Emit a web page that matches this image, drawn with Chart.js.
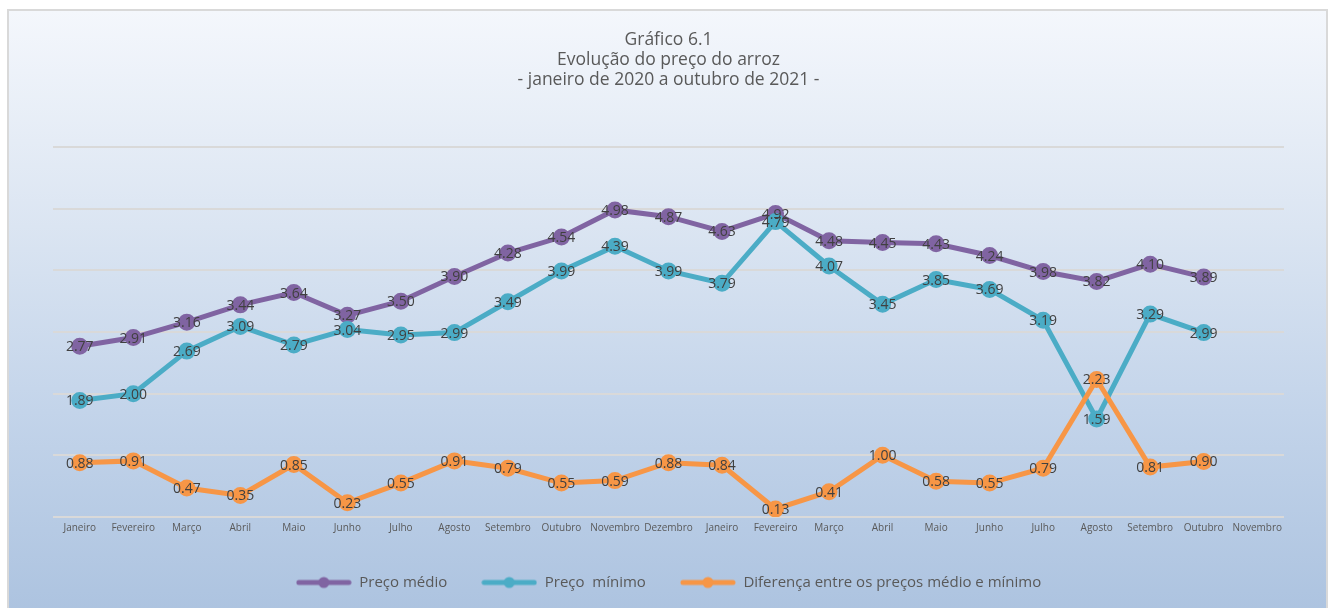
<!DOCTYPE html>
<html>
<head>
<meta charset="utf-8">
<script src="https://cdn.jsdelivr.net/npm/chart.js@4/dist/chart.umd.min.js"></script>
<style>
  html, body { margin: 0; padding: 0; background: #fff; overflow: hidden; }
  #box {
    position: absolute; left: 7px; top: 9px;
    width: 1317px; height: 616px;
    border: 2px solid #d9d9d9;
    background: linear-gradient(to bottom, #f4f7fc 0%, #dbe5f2 35%, #c3d4ea 65%, #abc2df 100%);
  }
  #wrap { position: relative; width: 1317px; height: 589px; }
</style>
</head>
<body>
<div id="box"><div id="wrap"><canvas id="ct-chart"></canvas></div></div>
<script>
"use strict";
const FONT = '"Open Sans", "DejaVu Sans", sans-serif';

const months = [
    "Janeiro", "Fevereiro", "Março", "Abril", "Maio", "Junho", "Julho", "Agosto",
    "Setembro", "Outubro", "Novembro", "Dezembro",
    "Janeiro", "Fevereiro", "Março", "Abril", "Maio", "Junho", "Julho", "Agosto",
    "Setembro", "Outubro", "Novembro"
];
const precoMedio = [2.77, 2.91, 3.16, 3.44, 3.64, 3.27, 3.50, 3.90, 4.28, 4.54, 4.98, 4.87,
                    4.63, 4.92, 4.48, 4.45, 4.43, 4.24, 3.98, 3.82, 4.10, 3.89, null];
const precoMinimo = [1.89, 2.00, 2.69, 3.09, 2.79, 3.04, 2.95, 2.99, 3.49, 3.99, 4.39, 3.99,
                     3.79, 4.79, 4.07, 3.45, 3.85, 3.69, 3.19, 1.59, 3.29, 2.99, null];
const diferenca = [0.88, 0.91, 0.47, 0.35, 0.85, 0.23, 0.55, 0.91, 0.79, 0.55, 0.59, 0.88,
                   0.84, 0.13, 0.41, 1.00, 0.58, 0.55, 0.79, 2.23, 0.81, 0.90, null];

const colors = ["#8064a2", "#4bacc6", "#f79646"];

// legend icon: short line with a dot in the middle
function legendIcon(color) {
    const c = document.createElement('canvas');
    c.width = 56; c.height = 14;
    const g = c.getContext('2d');
    g.strokeStyle = color;
    g.lineWidth = 5;
    g.lineCap = 'round';
    g.beginPath(); g.moveTo(3, 7); g.lineTo(53, 7); g.stroke();
    g.fillStyle = color;
    g.beginPath(); g.arc(28, 7, 5.5, 0, Math.PI * 2); g.fill();
    return c;
}
const icons = colors.map(legendIcon);

const valueLabels = {
    id: 'valueLabels',
    afterDatasetsDraw(chart) {
        const ctx = chart.ctx;
        ctx.save();
        ctx.font = '14px ' + FONT;
        ctx.fillStyle = '#404040';
        ctx.textAlign = 'center';
        ctx.textBaseline = 'middle';
        chart.data.datasets.forEach((ds, i) => {
            chart.getDatasetMeta(i).data.forEach((pt, j) => {
                const v = ds.data[j];
                if (v === null || v === undefined) return;
                ctx.fillText(v.toFixed(2), pt.x, pt.y + 1);
            });
        });
        ctx.restore();
    }
};

function line(label, data, color, order) {
    return {
        label: label,
        data: data,
        borderColor: color,
        backgroundColor: color,
        pointBackgroundColor: color,
        pointBorderColor: color,
        borderWidth: 5,
        pointRadius: 6,
        pointHoverRadius: 6,
        tension: 0,
        order: order
    };
}

const ctx = document.getElementById('ct-chart').getContext('2d');
new Chart(ctx, {
    type: 'line',
    data: {
        labels: months,
        datasets: [
            line("Preço médio", precoMedio, colors[0], 3),
            line("Preço  mínimo", precoMinimo, colors[1], 2),
            line("Diferença entre os preços médio e mínimo", diferenca, colors[2], 1)
        ]
    },
    options: {
        responsive: true,
        maintainAspectRatio: false,
        animation: false,
        layout: {
            padding: { left: 44, right: 42, top: 0, bottom: 0 }
        },
        scales: {
            x: {
                offset: true,
                grid: { display: false },
                border: { display: false },
                ticks: {
                    autoSkip: false,
                    maxRotation: 0,
                    padding: -3,
                    color: '#595959',
                    font: { family: FONT, size: 10 }
                },
                afterFit: (scale) => { scale.height += 10; }
            },
            y: {
                min: 0,
                max: 6,
                ticks: { stepSize: 1, display: false },
                border: { display: false },
                grid: { color: '#d9d9d9', lineWidth: 2, drawTicks: false }
            }
        },
        plugins: {
            tooltip: { enabled: false },
            title: {
                display: true,
                text: ['Gráfico 6.1', 'Evolução do preço do arroz', '- janeiro de 2020 a outubro de 2021 -'],
                color: '#595959',
                font: { family: FONT, size: 17.5, weight: 'normal', lineHeight: 20 / 17.5 },
                padding: { top: 19, bottom: 57 }
            },
            legend: {
                position: 'bottom',
                labels: {
                    usePointStyle: true,
                    pointStyleWidth: 56,
                    boxHeight: 14,
                    padding: 34,
                    color: '#595959',
                    font: { family: FONT, size: 15 },
                    sort: (a, b) => a.datasetIndex - b.datasetIndex,
                    generateLabels(chart) {
                        const items = Chart.defaults.plugins.legend.labels.generateLabels(chart);
                        items.forEach(it => { it.pointStyle = icons[it.datasetIndex]; });
                        return items;
                    }
                }
            }
        }
    },
    plugins: [valueLabels]
});
</script>
</body>
</html>
